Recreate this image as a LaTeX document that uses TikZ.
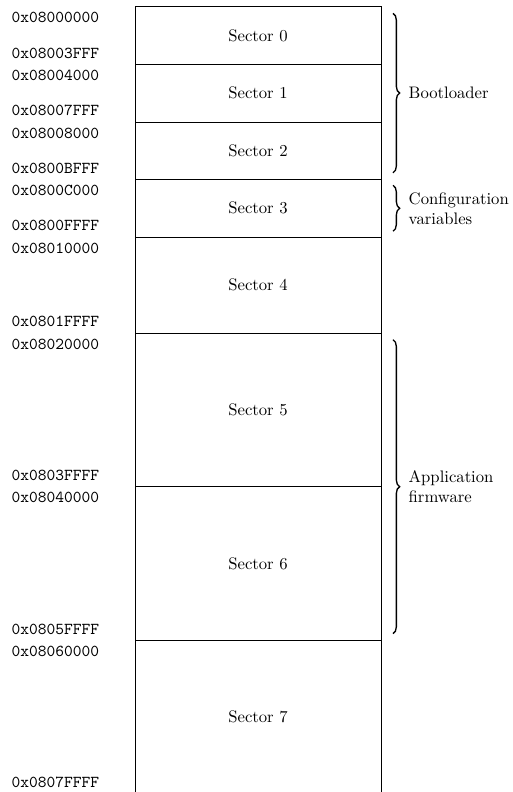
\documentclass[tikz,border=0pt]{standalone}
\usepackage{tikz}
\usetikzlibrary{positioning,calc,decorations.pathreplacing}

\tikzset{
  sector/.style={draw, minimum width=147.6pt, outer sep=0pt, inner sep=0pt},
  small/.style={sector, minimum height=34.56pt},
  medium/.style={sector, minimum height=57.6pt},
  large/.style={sector, minimum height=92.16pt},
  addr/.style={font=\ttfamily, inner sep=3.33pt, xshift=-18pt},
  startaddr/.style={addr, anchor=north east},
  endaddr/.style={addr, anchor=south east},
  region/.style={thick, decorate, decoration={brace, amplitude=4pt}},
  regionlabel/.style={anchor=west, align=left, xshift=5.7pt},
}

\begin{document}
\begin{tikzpicture}
  \useasboundingbox (0,0) rectangle (307.2pt,-475.2pt);

  % Flash sectors
  \node[small, anchor=north west] (s0) at (81pt,-4pt) {Sector 0};
  \node[small, below=0pt of s0] (s1) {Sector 1};
  \node[small, below=0pt of s1] (s2) {Sector 2};
  \node[small, below=0pt of s2] (s3) {Sector 3};
  \node[medium, below=0pt of s3] (s4) {Sector 4};
  \node[large, below=0pt of s4] (s5) {Sector 5};
  \node[large, below=0pt of s5] (s6) {Sector 6};
  \node[large, below=0pt of s6] (s7) {Sector 7};

  % Start and end addresses
  \node[startaddr] (a0) at (s0.north west) {0x08000000};
  \node[endaddr] (e0) at (s0.south west) {0x08003FFF};
  \node[startaddr] (a1) at (s1.north west) {0x08004000};
  \node[endaddr] (e1) at (s1.south west) {0x08007FFF};
  \node[startaddr] (a2) at (s2.north west) {0x08008000};
  \node[endaddr] (e2) at (s2.south west) {0x0800BFFF};
  \node[startaddr] (a3) at (s3.north west) {0x0800C000};
  \node[endaddr] (e3) at (s3.south west) {0x0800FFFF};
  \node[startaddr] (a4) at (s4.north west) {0x08010000};
  \node[endaddr] (e4) at (s4.south west) {0x0801FFFF};
  \node[startaddr] (a5) at (s5.north west) {0x08020000};
  \node[endaddr] (e5) at (s5.south west) {0x0803FFFF};
  \node[startaddr] (a6) at (s6.north west) {0x08040000};
  \node[endaddr] (e6) at (s6.south west) {0x0805FFFF};
  \node[startaddr] (a7) at (s7.north west) {0x08060000};
  \node[endaddr] (e7) at (s7.south west) {0x0807FFFF};

  % Regions
  \draw[region] ($(s0.north east)+(7.2pt,-4pt)$) -- ($(s2.south east)+(7.2pt,4pt)$)
    node[midway, regionlabel] (boot) {Bootloader};
  \draw[region] ($(s3.north east)+(7.2pt,-3.5pt)$) -- ($(s3.south east)+(7.2pt,3.5pt)$)
    node[midway, regionlabel] (config) {Configuration\\variables};
  \draw[region] ($(s5.north east)+(7.2pt,-4pt)$) -- ($(s6.south east)+(7.2pt,4pt)$)
    node[midway, regionlabel] (app) {Application\\firmware};
\end{tikzpicture}
\end{document}
